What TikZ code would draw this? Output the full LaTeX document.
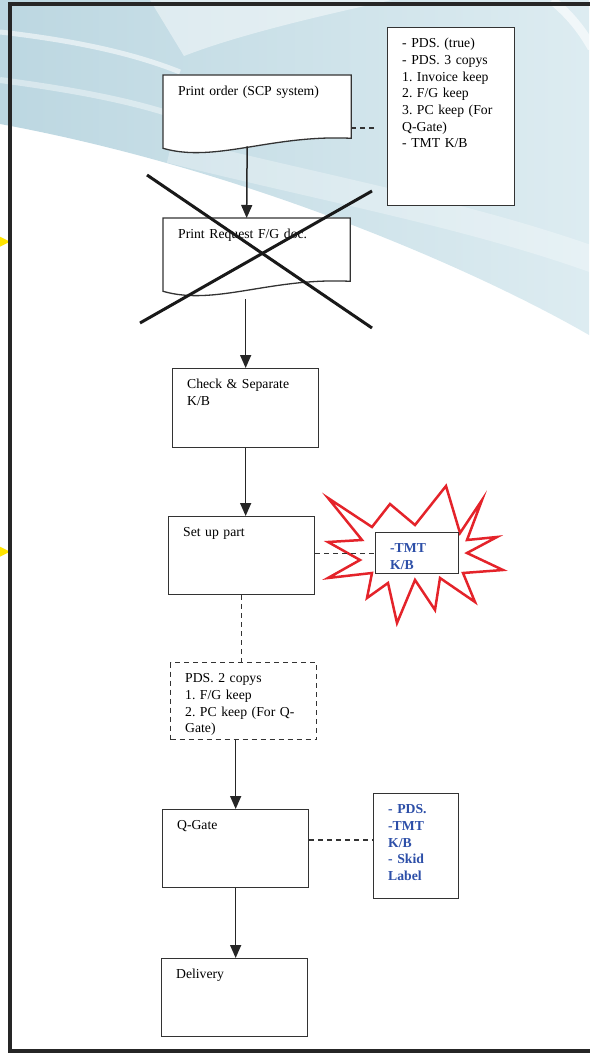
\documentclass[tikz,border=0pt]{standalone}
\usepackage{fontspec}
\setmainfont{Liberation Serif}
\usetikzlibrary{arrows.meta,backgrounds}
\frenchspacing

\definecolor{bgblue}{HTML}{BCD7E1}
\definecolor{bgpale}{HTML}{DDECF1}
\definecolor{linegray}{HTML}{333333}
\definecolor{framegray}{HTML}{262626}
\definecolor{noteblue}{HTML}{2D4FA8}
\definecolor{burstred}{HTML}{E4232A}
\definecolor{marker}{HTML}{FFE400}

% wavy "document" outline behind a doc node
\newcommand{\docoutline}[1]{%
  \begin{scope}[on background layer]
    \draw[docline] (#1.north west) -- (#1.north east)
      -- ([yshift=10pt]#1.south east)
      .. controls +(-80,-4) and +(52,15) .. (#1.south west) -- cycle;
  \end{scope}}

\begin{document}
\begin{tikzpicture}[
    x=1pt, y=-1pt,
    box/.style={draw=linegray, line width=1.3pt, fill=white, anchor=north west,
        inner xsep=14.5pt, inner ysep=0pt, text height=20pt, align=left,
        font=\fontsize{13.7}{16.7}\selectfont},
    doc/.style={box, draw=none, fill=none},
    docline/.style={draw=linegray, line width=1.3pt, fill=white},
    note/.style={box, text=noteblue,
        font=\fontsize{13.7}{16.7}\selectfont\bfseries},
    flow/.style={-{Triangle[width=11pt,length=13pt]}, line width=1.5pt, draw=black!85},
    link/.style={dash pattern=on 5pt off 4pt, line width=1.2pt, draw=linegray},
    burst/.style={draw=burstred, line width=2.5pt, fill=white, line join=miter},
]
\useasboundingbox (0,0) rectangle (589,1056);

% Background
\begin{scope}[on background layer]
\shade[left color=bgblue, right color=bgpale]
    (0,0) -- (589,0) -- (589,335)
    .. controls (480,272) and (250,170) .. (0,124) -- cycle;
\fill[white, opacity=.45] (150,0) -- (392,0)
    .. controls (300,20) and (230,38) .. (184,56) -- cycle;
\draw[white, opacity=.55, line width=5pt] (0,32) .. controls (70,40) and (130,52) .. (180,72);
\draw[white, opacity=.4, line width=6pt] (0,80) .. controls (60,88) and (120,98) .. (170,114);
\draw[white, opacity=.3, line width=26pt] (170,150) .. controls (330,190) and (470,215) .. (600,262);
\draw[white, opacity=.6, line width=9pt] (552,0) .. controls (570,15) and (582,30) .. (592,48);
\end{scope}

% Frame
\foreach \y in {241.7, 551.7} {
    \fill[marker] (-1,\y-5.5) -- (10,\y) -- (-1,\y+5.5) -- cycle;
}
\draw[framegray, line width=4.5pt] (10,4) rectangle (620,1051);

% Steps
\node[doc, text width=158pt, text depth=52pt] (printorder) at (163,75)
    {Print order (SCP system)};
\docoutline{printorder}
\node[box, text width=98pt, text depth=158pt] (pdslist) at (387,27)
    {- PDS. (true)\\- PDS. 3 copys\\1. Invoice keep\\2. F/G keep\\3. PC keep (For\\Q-Gate)\\- TMT K/B};
\node[doc, text width=157pt, text depth=52pt] (printreq) at (163,218)
    {Print Request F/G doc.};
\docoutline{printreq}
\node[box, text width=117pt, text depth=59pt] (check) at (172,368)
    {Check \& Separate\\K/B};
\node[box, text width=117pt, text depth=58pt] (setup) at (168,516)
    {Set up part};

% Starburst
\draw[burst] (328,498) -- (372,527) -- (390,504) -- (415,525) -- (446,486)
    -- (460,533) -- (482,500) -- (467,540) -- (497,537) -- (467,553)
    -- (503,570) -- (463,573) -- (475,602) -- (440,578) -- (435,610)
    -- (415,580) -- (397,623) -- (388,583) -- (367,598) -- (372,573)
    -- (328,578) -- (360,560) -- (328,542) -- (362,540) -- cycle;
\node[note, text width=54pt, text depth=21pt] (tmt) at (375,532)
    {-TMT\\K/B};

\node[box, dash pattern=on 5pt off 4pt, text width=117pt, text depth=57pt] (pdscopy) at (170,662)
    {PDS. 2 copys\\1. F/G keep\\2. PC keep (For Q-\\Gate)};
\node[box, text width=117pt, text depth=58pt] (qgate) at (162,809)
    {Q-Gate};
\node[note, text width=56pt, text depth=85pt] (qlist) at (373,793)
    {- PDS.\\-TMT\\K/B\\- Skid\\Label};
\node[box, text width=117pt, text depth=58pt] (delivery) at (161,958)
    {Delivery};

% Crossed out
\draw[black!90, line width=3pt] (147,175) -- (372,328);
\draw[black!90, line width=3pt] (372,191) -- (140,323);

% Arrows
\draw[flow] ([xshift=-10pt,yshift=2pt]printorder.south) -- ([xshift=-10pt]printreq.north);
\draw[flow, shorten <=8pt] (check.north |- printreq.south) -- (check.north);
\draw[flow] (check.south) -- (check.south |- setup.north);
\draw[link] (setup.south) -- (setup.south |- pdscopy.north);
\draw[flow] (qgate.north |- pdscopy.south) -- (qgate.north);
\draw[flow] (qgate.south) -- (qgate.south |- delivery.north);

% Dashed notes
\draw[link, shorten >=11pt] ([yshift=-53pt]printorder.north east)
    -- ([yshift=-53pt]printorder.north east -| pdslist.west);
\draw[link] (tmt.west -| setup.east) -- (tmt.west);
\draw[link] ([yshift=-31pt]qgate.north east) -- ([yshift=-31pt]qgate.north east -| qlist.west);

\end{tikzpicture}
\end{document}
